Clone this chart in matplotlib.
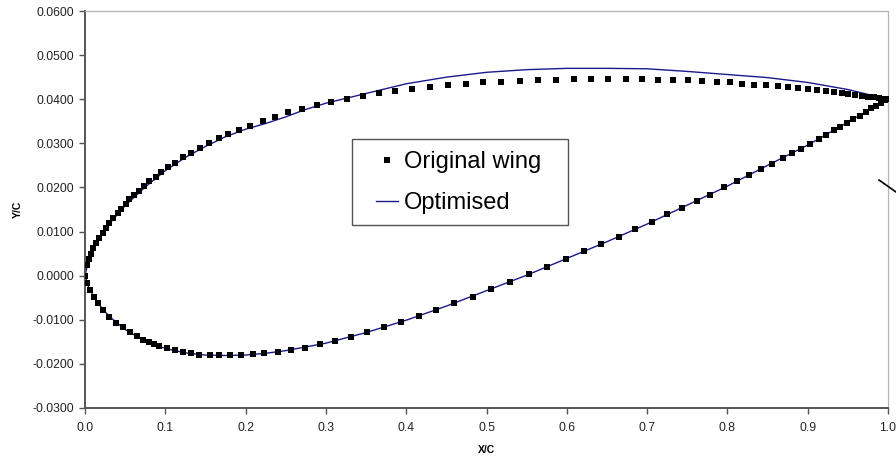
# ==========================
# Wing section: original vs optimised
# ==========================

import matplotlib
matplotlib.use("Agg")
import matplotlib.pyplot as plt
from matplotlib.lines import Line2D
from matplotlib.patches import Rectangle
from matplotlib.ticker import FormatStrFormatter, MultipleLocator

plt.rcParams["font.family"] = ["Liberation Sans", "DejaVu Sans"]
plt.rcParams["axes.unicode_minus"] = False

# ==========================
# Data
# ==========================

# original wing - upper surface, leading edge to trailing edge
x_up = [0.0, 0.0021, 0.0046, 0.0075, 0.0103, 0.0137, 0.0178, 0.0221, 0.0265, 0.0303,
        0.0353, 0.0407, 0.0452, 0.0507, 0.0552, 0.0610, 0.0676, 0.0739, 0.0801, 0.0881,
        0.0947, 0.1038, 0.1125, 0.1221, 0.1321, 0.1433, 0.1541, 0.1666, 0.1785, 0.1922,
        0.2059, 0.2214, 0.2371, 0.2533, 0.2703, 0.2887, 0.3065, 0.3260, 0.3460, 0.3663,
        0.3866, 0.4078, 0.4294, 0.4518, 0.4743, 0.4962, 0.5186, 0.5419, 0.5643, 0.5868,
        0.6092, 0.6304, 0.6519, 0.6736, 0.6935, 0.7130, 0.7321, 0.7512, 0.7683, 0.7865,
        0.8027, 0.8185, 0.8334, 0.8484, 0.8625, 0.8758, 0.8879, 0.9003, 0.9115, 0.9223,
        0.9331, 0.9422, 0.9506, 0.9589, 0.9671, 0.9751, 0.9821, 0.9892, 0.9954, 1.0]
y_up = [0.0, 0.0024, 0.0037, 0.0049, 0.0062, 0.0073, 0.0085, 0.0096, 0.0107, 0.0119,
        0.0130, 0.0141, 0.0152, 0.0162, 0.0173, 0.0182, 0.0193, 0.0203, 0.0214, 0.0224,
        0.0235, 0.0246, 0.0256, 0.0268, 0.0278, 0.0289, 0.0300, 0.0311, 0.0321, 0.0330,
        0.0340, 0.0351, 0.0360, 0.0370, 0.0377, 0.0387, 0.0393, 0.0400, 0.0407, 0.0414,
        0.0418, 0.0424, 0.0428, 0.0432, 0.0435, 0.0438, 0.0439, 0.0441, 0.0443, 0.0444,
        0.0445, 0.0445, 0.0445, 0.0445, 0.0445, 0.0444, 0.0443, 0.0443, 0.0441, 0.0439,
        0.0438, 0.0435, 0.0433, 0.0432, 0.0429, 0.0427, 0.0425, 0.0423, 0.0420, 0.0419,
        0.0416, 0.0414, 0.0412, 0.0410, 0.0408, 0.0406, 0.0404, 0.0403, 0.0401, 0.0400]

# original wing - lower surface, leading edge to trailing edge
x_lo = [0.0, 0.0021, 0.0062, 0.0112, 0.0166, 0.0228, 0.0303, 0.0386, 0.0477, 0.0561,
        0.0644, 0.0719, 0.0801, 0.0862, 0.0926, 0.1026, 0.1121, 0.1221, 0.1321, 0.1424,
        0.1561, 0.1673, 0.1803, 0.1947, 0.2089, 0.2230, 0.2404, 0.2563, 0.2745, 0.2928,
        0.3118, 0.3310, 0.3513, 0.3729, 0.3941, 0.4157, 0.4377, 0.4601, 0.4834, 0.5058,
        0.5291, 0.5528, 0.5752, 0.5984, 0.6208, 0.6424, 0.6644, 0.6852, 0.7055, 0.7254,
        0.7437, 0.7616, 0.7778, 0.7961, 0.8119, 0.8272, 0.8418, 0.8555, 0.8687, 0.8804,
        0.8920, 0.9028, 0.9135, 0.9231, 0.9331, 0.9406, 0.9489, 0.9568, 0.9646, 0.9721,
        0.9788, 0.9850, 0.9908, 0.9966, 1.0]
y_lo = [0.0, -0.0017, -0.0033, -0.0048, -0.0063, -0.0078, -0.0093, -0.0107, -0.0117, -0.0128,
        -0.0137, -0.0145, -0.0151, -0.0156, -0.0160, -0.0165, -0.0169, -0.0173, -0.0176, -0.0179,
        -0.0179, -0.0180, -0.0180, -0.0180, -0.0178, -0.0176, -0.0173, -0.0168, -0.0163, -0.0156,
        -0.0147, -0.0138, -0.0128, -0.0117, -0.0105, -0.0091, -0.0077, -0.0062, -0.0048, -0.0030,
        -0.0015, 0.0003, 0.0020, 0.0038, 0.0055, 0.0072, 0.0088, 0.0105, 0.0122, 0.0139,
        0.0154, 0.0169, 0.0184, 0.0200, 0.0214, 0.0228, 0.0242, 0.0253, 0.0266, 0.0277,
        0.0288, 0.0299, 0.0309, 0.0320, 0.0330, 0.0338, 0.0346, 0.0355, 0.0363, 0.0371,
        0.0379, 0.0385, 0.0392, 0.0398, 0.0400]

# optimised - upper surface
xo_up = [0.0, 0.005, 0.01, 0.02, 0.03, 0.05, 0.075, 0.10, 0.125, 0.15,
         0.175, 0.20, 0.225, 0.25, 0.275, 0.30, 0.35, 0.40, 0.45, 0.50,
         0.55, 0.60, 0.65, 0.70, 0.75, 0.80, 0.85, 0.90, 0.95, 1.0]
yo_up = [0.0, 0.0039, 0.0061, 0.0091, 0.0117, 0.0159, 0.0201, 0.0238, 0.0268, 0.0293,
         0.0315, 0.0332, 0.0345, 0.0360, 0.0377, 0.0391, 0.0413, 0.0435, 0.0450, 0.0461,
         0.0467, 0.0470, 0.0470, 0.0469, 0.0463, 0.0456, 0.0449, 0.0438, 0.0422, 0.0400]

# optimised - lower surface
xo_lo = [0.0, 0.005, 0.01, 0.02, 0.03, 0.05, 0.075, 0.10, 0.125, 0.15,
         0.175, 0.20, 0.225, 0.25, 0.30, 0.35, 0.40, 0.45, 0.50, 0.55,
         0.60, 0.65, 0.70, 0.75, 0.80, 0.85, 0.90, 0.95, 1.0]
yo_lo = [0.0, -0.0029, -0.0044, -0.0071, -0.0092, -0.0122, -0.0149, -0.0165, -0.0175, -0.0180,
         -0.0181, -0.0180, -0.0176, -0.0170, -0.0153, -0.0129, -0.0101, -0.0069, -0.0034, 0.0001,
         0.0039, 0.0077, 0.0117, 0.0160, 0.0203, 0.0250, 0.0296, 0.0348, 0.0400]

# ==========================
# Plot
# ==========================

W, H = 896, 459
fig = plt.figure(figsize=(W / 100, H / 100), dpi=100)
ax = fig.add_axes([85 / W, 51 / H, 803 / W, 397 / H])

x_orig = x_up[::-1] + x_lo[1:]
y_orig = y_up[::-1] + y_lo[1:]
x_opt = xo_up[::-1] + xo_lo[1:]
y_opt = yo_up[::-1] + yo_lo[1:]

ax.plot(x_opt, y_opt, color="#1a1a8c", lw=1.0, label="Optimised", zorder=2)
ax.plot(x_orig, y_orig, ls="none", marker="s", ms=3.8, color="black",
        markeredgewidth=0, label="Original wing", zorder=3)

ax.set_xlim(0, 1.0)
ax.set_ylim(-0.03, 0.06)
ax.xaxis.set_major_locator(MultipleLocator(0.1))
ax.yaxis.set_major_locator(MultipleLocator(0.01))
ax.xaxis.set_major_formatter(FormatStrFormatter("%.1f"))
ax.yaxis.set_major_formatter(FormatStrFormatter("%.4f"))

for s in ["left", "bottom"]:
    ax.spines[s].set_color("#555555")
    ax.spines[s].set_linewidth(1.4)
for s in ["top", "right"]:
    ax.spines[s].set_color("#b4b4b4")
    ax.spines[s].set_linewidth(0.9)

ax.tick_params(axis="both", direction="out", length=4, width=1, color="#555555",
               labelsize=8.7, labelcolor="#222222")
ax.tick_params(axis="x", pad=6)
ax.tick_params(axis="y", pad=3.5)

ax.set_xlabel("X/C", fontsize=7.5, fontweight="bold", labelpad=8)
ax.set_ylabel("Y/C", fontsize=7.5, fontweight="bold", labelpad=7)

# ==========================
# Legend (Excel style box)
# ==========================

# white box drawn inside the axes so the legend text sits on top of it
box = Rectangle((352 / W, 1 - 225 / H), 216 / W, 86 / H,
                transform=fig.transFigure, facecolor="white",
                edgecolor="#555555", lw=1.0, zorder=4, clip_on=False)
ax.add_patch(box)

handles, labels = ax.get_legend_handles_labels()
leg = ax.legend(handles[::-1], labels[::-1], loc="upper left",
                bbox_to_anchor=((376 - 85) / 803, (408 - 151) / 397),
                fontsize=17, frameon=False, borderpad=0, borderaxespad=0,
                handlelength=0.95, handletextpad=0.25, labelspacing=0.82)
leg.set_zorder(5)

# stray stroke at the right edge of the picture
fig.add_artist(Line2D([879 / W, 1.0], [1 - 180 / H, 1 - 192 / H],
                      color="black", lw=1.2, transform=fig.transFigure))

fig.savefig("out.png", dpi=100)
